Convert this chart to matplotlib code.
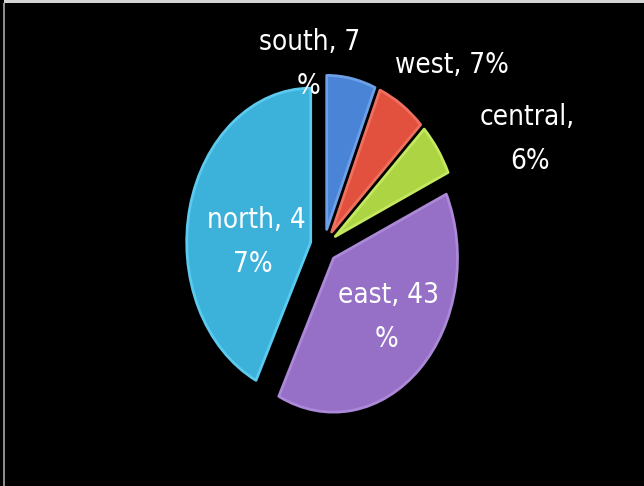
import matplotlib.pyplot as plt
from matplotlib.patches import Rectangle

# data (values as printed on the labels)
regions = ['south', 'west', 'central', 'east', 'north']
shares = [7, 7, 6, 43, 47]
label_lines = [('south, 7', '%'), ('west, 7%',), ('central,', '6%'),
               ('east, 43', '%'), ('north, 4', '7%')]
colors = ['#4a84d6', '#e2503e', '#acd443', '#9670c6', '#3cb2da']
rims = ['#6da0e8', '#f07060', '#c4e860', '#ac88d8', '#5ccaee']

W, H = 644, 486
cx, cy, rx, ry = 324, 246, 124, 154   # pie centre / radii in pixels

fig = plt.figure(figsize=(W / 100, H / 100), dpi=100, facecolor='black')
ax = fig.add_axes([0, 0, 1, 1])
ax.set_facecolor('black')

wedges, _ = ax.pie(shares, colors=colors, startangle=90, counterclock=False,
                   explode=[0.11] * len(shares),
                   wedgeprops=dict(linewidth=2, joinstyle='round'))
for w, rim in zip(wedges, rims):
    w.set_edgecolor(rim)
ax.set_aspect('auto')
ax.set_xlim(-cx / rx, (W - cx) / rx)
ax.set_ylim((cy - H) / ry, cy / ry)
ax.axis('off')

# label anchors in pixel positions (centre of the first line)
label_pos = [(310, 42), (452, 65), (527, 117), (388, 295), (256, 220)]
line_gap = 44
for lines, (px, py) in zip(label_lines, label_pos):
    for k, txt in enumerate(lines):
        x = px
        if k == 1:
            x = {'%': px - 2, '6%': px + 3, '7%': px - 3}.get(txt, px)
        fig.text(x / W, 1 - (py + k * line_gap) / H, txt, color='white',
                 fontsize=20, family='DejaVu Sans', fontstretch='condensed',
                 ha='center', va='center')

# thin light frame lines at the top and left edge of the screenshot
fig.add_artist(Rectangle((4 / W, 1 - 3 / H), 1, 3 / H, transform=fig.transFigure,
                         color='#d4d4d4', lw=0))
fig.add_artist(Rectangle((3 / W, 0), 1.5 / W, 1 - 3 / H, transform=fig.transFigure,
                         color='#8c8c8c', lw=0))

fig.savefig('out.png', dpi=100, facecolor='black')
